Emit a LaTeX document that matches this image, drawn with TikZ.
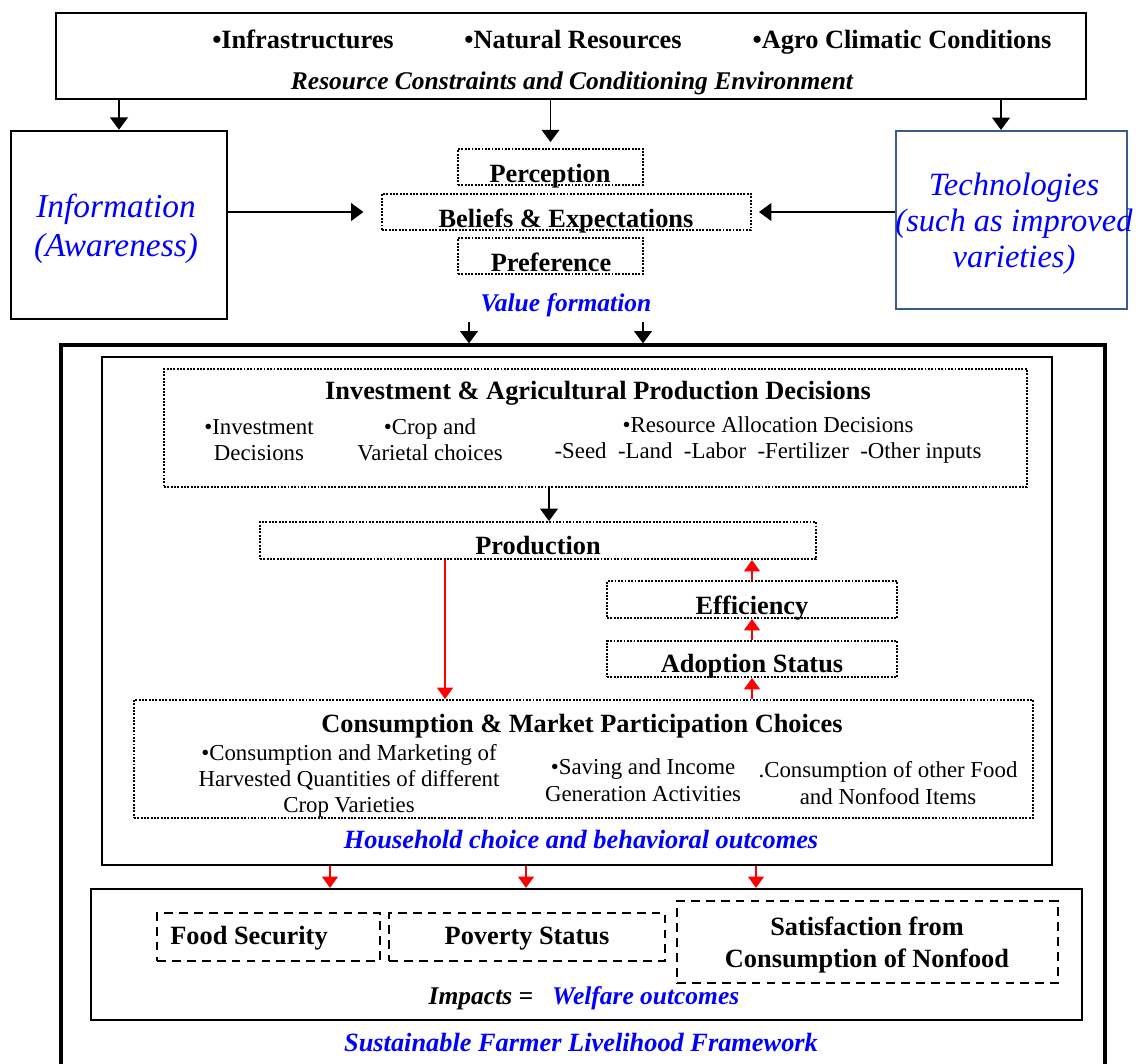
\documentclass[tikz,border=0pt]{standalone}
\usepackage{fontspec}
\setmainfont{Liberation Serif}
\usetikzlibrary {arrows.meta, positioning}
\definecolor{techblue}{RGB}{56,93,138}
\newcommand*{\blu}[1]{\textcolor{blue}{#1}}
\newcommand*{\fsz}[2]{\fontsize{#1pt}{#2pt}\selectfont}

\begin{document}
\begin{tikzpicture}[x=0.02cm, y=-0.02cm, >={Triangle[width=10pt,length=7pt]},
      wh/.style 2 args={minimum width=#1*0.02cm, minimum height=#2*0.02cm, inner sep=0pt},
      box/.style={draw, line width=1.2pt},
      dotbox/.style={draw, line width=1.1pt, dash pattern=on 1.1pt off 0.8pt},
      dashbox/.style={draw, line width=1.1pt, dash pattern=on 5pt off 3.5pt},
      head/.style={font=\fsz{15}{18}\bfseries, inner sep=0pt},
      item/.style={font=\fsz{13}{15}, align=center, inner sep=0pt},
      outcome/.style={font=\fsz{15}{18}\bfseries\itshape, text=blue, inner sep=0pt},
      link/.style={->, line width=1.1pt},
      redlink/.style={-{Triangle[width=9pt,length=6.5pt]}, red, line width=1.1pt}]
      \useasboundingbox (0,0) rectangle (1136,1063);

      % conditioning environment
      \node[box, wh={1030}{86}] (env) at (571,56) {};
      \node[head, anchor=base] (infra) at (303,48) {•Infrastructures};
      \node[head, anchor=base] (natres) at (573,48) {•Natural Resources};
      \node[head, anchor=base] (agro) at (902,48) {•Agro Climatic Conditions};
      \node[font=\fsz{14.5}{17}\bfseries\itshape, inner sep=0pt, anchor=base] (envlbl) at (572,89)
            {Resource Constraints and Conditioning Environment};

      % information and technologies
      \node[box, line width=1.4pt, wh={216}{188}] (info) at (119,225) {};
      \node[font=\fsz{19}{22}\itshape, text=blue, align=center, inner sep=0pt] (infolbl) at (116,229)
            {Information\\(Awareness)};
      \node[box, draw=techblue, wh={231}{178}] (tech) at (1011.5,220) {};
      \node[font=\fsz{18.5}{20.5}\itshape, text=blue, align=center, inner sep=0pt] (techlbl) at (1014,224)
            {Technologies\\(such as improved\\varieties)};

      % value formation
      \node[dotbox, wh={185}{36}] (percep) at (550.5,167) {};
      \node[dotbox, wh={369}{36}] (belief) at (566.5,212) {};
      \node[dotbox, wh={185}{36}] (pref) at (550.5,256) {};
      \node[head, anchor=base] (perceplbl) at (550,182) {Perception};
      \node[head, anchor=base] (belieflbl) at (566,227) {Beliefs \& Expectations};
      \node[head, anchor=base] (preflbl) at (551,271) {Preference};
      \node[outcome, font=\fsz{14.5}{17}\bfseries\itshape, anchor=base] (valuelbl) at (566,311) {Value formation};
      \coordinate (vf1) at (469,322);
      \coordinate (vf2) at (643,322);

      % household choices
      \node[box, line width=1.8pt, wh={1044}{735}] (frame) at (583,712.5) {};
      \node[box, wh={950}{508}] (house) at (577,611) {};
      \node[dotbox, wh={863}{118}] (invest) at (595.5,428) {};
      \node[head, anchor=base] (investlbl) at (598,399) {Investment \& Agricultural Production Decisions};
      \node[item] (invdec) at (259,440) {•Investment\\Decisions};
      \node[item] (cropdec) at (430,440) {•Crop and\\Varietal choices};
      \node[item] (resdec) at (768,440) {•Resource Allocation Decisions\\-Seed\ \ -Land\ \ -Labor\ \ -Fertilizer\ \ -Other inputs};

      \node[dotbox, wh={556}{37}] (prod) at (538,540.5) {};
      \node[head, anchor=base] (prodlbl) at (538,554) {Production};
      \node[dotbox, wh={290}{37}] (effic) at (752,599.5) {};
      \node[head, anchor=base] (efficlbl) at (752,614) {Efficiency};
      \node[dotbox, wh={290}{36}] (adopt) at (752,659) {};
      \node[head, anchor=base] (adoptlbl) at (752,672) {Adoption Status};

      \node[dotbox, wh={899}{118}] (consum) at (583.5,759) {};
      \node[head, anchor=base] (consumlbl) at (582,732) {Consumption \& Market Participation Choices};
      \node[item] (mktdec) at (349,781) {•Consumption and Marketing of\\Harvested Quantities of different\\Crop Varieties};
      \node[item] (savdec) at (643,780) {•Saving and Income\\Generation Activities};
      \node[item] (fooddec) at (888,783) {.Consumption of other Food\\and Nonfood Items};
      \node[outcome, anchor=base] (hhlbl) at (581,848) {Household choice and behavioral outcomes};

      % welfare outcomes
      \node[box, wh={991}{131}] (impact) at (586.5,954.5) {};
      \node[dashbox, wh={223}{48}] (food) at (268.5,937) {};
      \node[dashbox, wh={276}{48}] (pov) at (527,937) {};
      \node[dashbox, wh={381}{82}] (satis) at (867.5,942) {};
      \node[head, anchor=base] (foodlbl) at (249,944) {Food Security};
      \node[head, anchor=base] (povlbl) at (527,944) {Poverty Status};
      \node[head, align=center] (satislbl) at (867,945) {Satisfaction from\\Consumption of Nonfood};
      \node[outcome, text=black, font=\fsz{14.5}{17}\bfseries\itshape, anchor=base] (impactlbl) at (584,1004)
            {Impacts =\ \ \ \blu{Welfare outcomes}};
      \node[outcome, anchor=base] (framelbl) at (581,1051) {Sustainable Farmer Livelihood Framework};

      % arrows
      \draw[link] (env.south -| info.north) -- (info.north);
      \draw[link, shorten >=3.4pt] (env.south -| percep.north) -- (percep.north);
      \draw[link] ([xshift=-0.21cm]tech.north |- env.south) -- ([xshift=-0.21cm]tech.north);
      \draw[link, shorten >=10pt] (info.east |- belief.west) -- (belief.west);
      \draw[link, shorten >=4pt] (tech.west |- belief.east) -- (belief.east);
      \draw[link] (vf1) -- (vf1 |- frame.north);
      \draw[link] (vf2) -- (vf2 |- frame.north);
      \draw[link] ([xshift=0.22cm]prod.north |- invest.south) -- ([xshift=0.22cm]prod.north);
      \draw[redlink] ([xshift=-1.86cm]prod.south) -- ([xshift=-1.86cm]prod.south |- consum.north);
      \draw[redlink] (adopt.south |- consum.north) -- (adopt.south);
      \draw[redlink] (adopt.north) -- (effic.south);
      \draw[redlink] (effic.north) -- (prod.south -| effic.north);
      \foreach \x in {330,526,756}
        \draw[redlink] (house.south -| \x,0) -- (impact.north -| \x,0);
\end{tikzpicture}
\end{document}
